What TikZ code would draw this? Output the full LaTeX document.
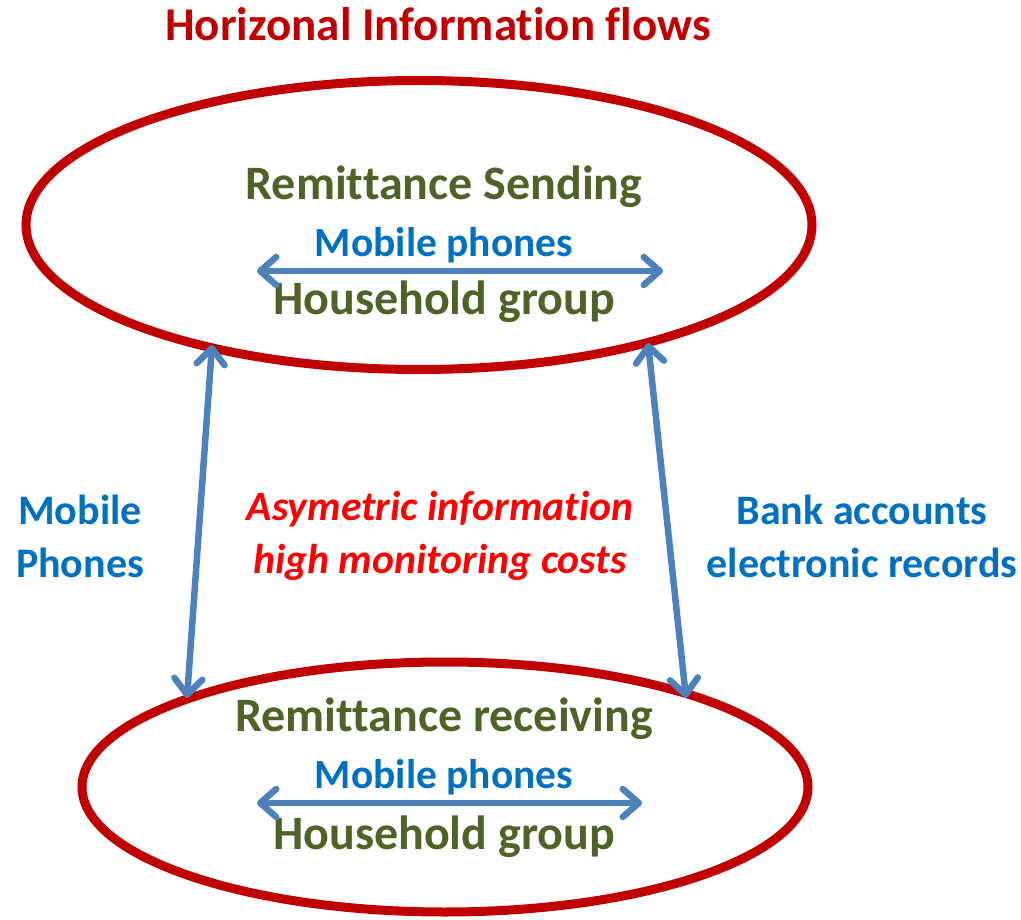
\documentclass[tikz,border=0pt]{standalone}
\usepackage{fontspec}
\setmainfont[Ligatures=NoCommon]{Carlito}
\usetikzlibrary{arrows.meta}
\definecolor{dred}{HTML}{C00000}
\definecolor{olive}{HTML}{4F6228}
\definecolor{tblue}{HTML}{0070C0}
\definecolor{ablue}{HTML}{4F81BD}
\definecolor{ired}{HTML}{FF0000}
\tikzset{
  ring/.style={draw=dred, line width=9pt},
  conn/.style={draw=ablue, line width=6.5pt, line cap=round, {Straight Barb[round,length=16pt,width=28pt]}-{Straight Barb[round,length=16pt,width=28pt]}},
  title/.style={font=\fontsize{47}{52}\selectfont\bfseries, text=dred},
  big/.style={font=\fontsize{48}{52}\selectfont\bfseries, text=olive},
  small/.style={font=\fontsize{41.5}{46}\selectfont\bfseries, text=tblue},
  side/.style={font=\fontsize{42}{53}\selectfont\bfseries, text=tblue, align=center},
  mid/.style={font=\fontsize{41.7}{53}\selectfont\bfseries\itshape, text=ired, align=center},
}
\begin{document}
\begin{tikzpicture}[x=1pt,y=-1pt]
\useasboundingbox (0,0) rectangle (1021,920);
\node[title] (t) at (438,24) {Horizonal Information flows};
\draw[ring] (419,225) ellipse [x radius=393, y radius=144.5];
\draw[ring] (445,787) ellipse [x radius=363, y radius=125];
\node[big] (rs) at (444,187) {Remittance Sending};
\node[small] (mp1) at (444,245) {Mobile phones};
\node[big] (hg1) at (444,302) {Household group};
\coordinate (a1) at (257,271); \coordinate (b1) at (663,271);
\draw[conn] (a1) -- (b1);
\node[big] (rr) at (444,719) {Remittance receiving};
\node[small] (mp2) at (444,777) {Mobile phones};
\node[big] (hg2) at (444,837) {Household group};
\coordinate (a2) at (257,803); \coordinate (b2) at (642,803);
\draw[conn] (a2) -- (b2);
\coordinate (l1) at (212,345); \coordinate (l2) at (187,698);
\coordinate (r1) at (648,343); \coordinate (r2) at (686,698);
\draw[conn] (l1) -- (l2);
\draw[conn] (r1) -- (r2);
\node[side] (lm) at (80,536) {Mobile\\Phones};
\node[mid] (am) at (440,536) {Asymetric information\\high monitoring costs};
\node[side] (rb) at (862,536) {Bank accounts\\electronic records};
\end{tikzpicture}
\end{document}
